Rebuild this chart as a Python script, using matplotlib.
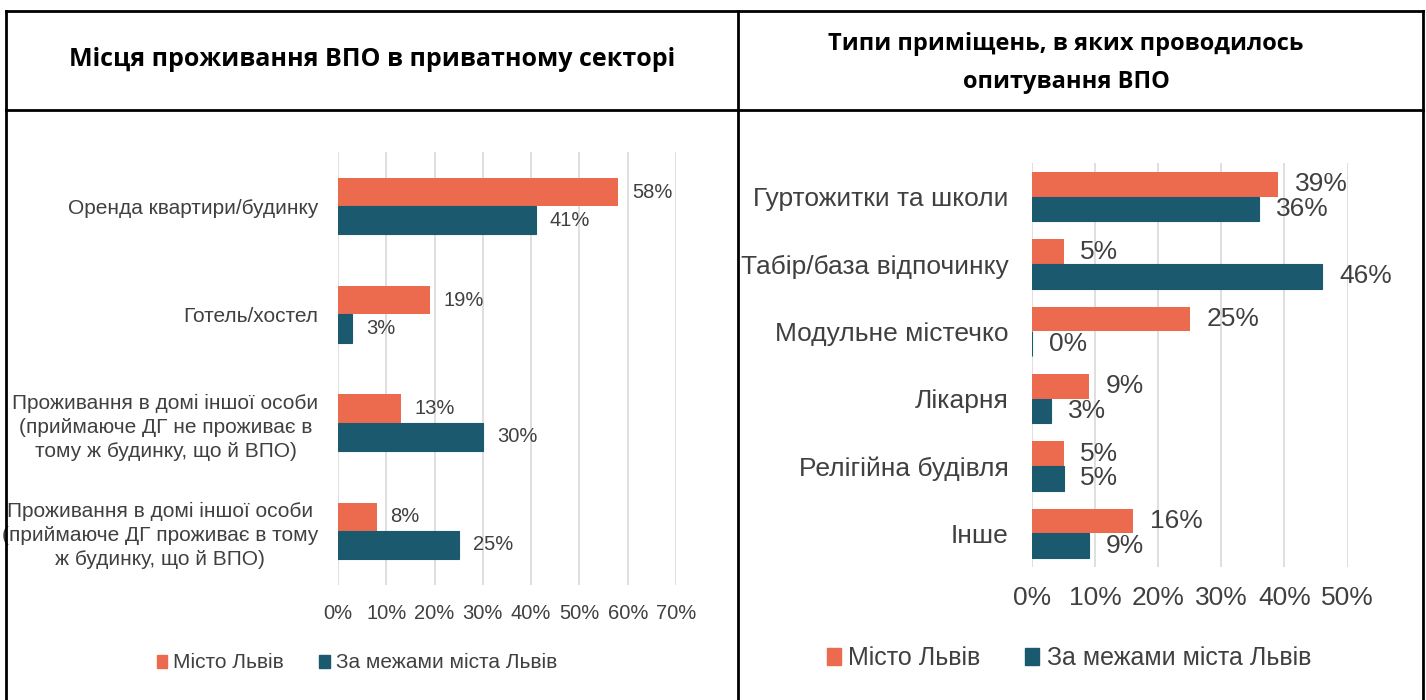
import numpy as np
import matplotlib.pyplot as plt
from matplotlib.lines import Line2D
from matplotlib.patches import Patch

plt.rcParams['font.family'] = ['Liberation Sans', 'DejaVu Sans']

ORANGE = '#EC6A4E'
TEAL = '#1B5A6E'
TEXT = '#404040'
GRID = '#D9D9D9'

series_names = ['Місто Львів', 'За межами міста Львів']

# left panel: private sector
left_title = 'Місця проживання ВПО в приватному секторі'
left_cats = ['Оренда квартири/будинку',
             'Готель/хостел',
             'Проживання в домі іншої особи\n(приймаюче ДГ не проживає в\nтому ж будинку, що й ВПО)',
             'Проживання в домі іншої особи\n(приймаюче ДГ проживає в тому\nж будинку, що й ВПО)']
left_city = [58, 19, 13, 8]
left_outside = [41, 3, 30, 25]

# right panel: survey locations
right_title = 'Типи приміщень, в яких проводилось\nопитування ВПО'
right_cats = ['Гуртожитки та школи', 'Табір/база відпочинку', 'Модульне містечко',
              'Лікарня', 'Релігійна будівля', 'Інше']
right_city = [39, 5, 25, 9, 5, 16]
right_outside = [36, 46, 0, 3, 5, 9]


def draw_panel(ax, cats, city, outside, xmax, bar_h, fs_cat, fs_val, fs_tick, gap, ypad):
    y = np.arange(len(cats))
    ax.barh(y - bar_h / 2, city, height=bar_h, color=ORANGE, zorder=3)
    ax.barh(y + bar_h / 2, outside, height=bar_h, color=TEAL, zorder=3,
            edgecolor=TEAL, linewidth=0.8)
    for yi, v in zip(y, city):
        ax.annotate(f'{v}%', (v, yi - bar_h / 2), xytext=(gap, 0), textcoords='offset points',
                    va='center', ha='left', fontsize=fs_val, color=TEXT)
    for yi, v in zip(y, outside):
        ax.annotate(f'{v}%', (v, yi + bar_h / 2), xytext=(gap, 0), textcoords='offset points',
                    va='center', ha='left', fontsize=fs_val, color=TEXT)
    ax.set_xlim(0, xmax)
    ax.set_ylim(len(cats) - 0.5, -0.5)
    ax.set_yticks(y)
    ax.set_yticklabels(cats, fontsize=fs_cat, color=TEXT, ha='right', multialignment='center',
                       linespacing=1.35)
    ax.set_xticks(np.arange(0, xmax + 1, 10))
    ax.set_xticklabels([f'{t}%' for t in range(0, xmax + 1, 10)], fontsize=fs_tick, color=TEXT)
    ax.tick_params(length=0)
    ax.tick_params(axis='x', pad=14)
    ax.tick_params(axis='y', pad=ypad)
    ax.grid(axis='x', color=GRID, linewidth=1.2, zorder=0)
    for s in ax.spines.values():
        s.set_visible(False)


fig = plt.figure(figsize=(14.26, 7), dpi=100)

W, H = 1426, 700
def fx(px):
    return px / W
def fy(py):
    return 1 - py / H

ax1 = fig.add_axes([fx(338), fy(585), fx(676) - fx(338), fy(152) - fy(585)])
draw_panel(ax1, left_cats, left_city, left_outside, 70, 0.26, 15, 14.5, 14.5, 10, 14)

ax2 = fig.add_axes([fx(1032), fy(567), fx(1347.5) - fx(1032), fy(163) - fy(567)])
draw_panel(ax2, right_cats, right_city, right_outside, 50, 0.367, 19, 19, 19, 12, 17)

handles = [Patch(color=ORANGE), Patch(color=TEAL)]
fig.legend(handles, series_names, loc='center', bbox_to_anchor=(fx(357), fy(663)),
           ncol=2, frameon=False, fontsize=15, labelcolor=TEXT,
           handlelength=0.5, handleheight=0.6, handletextpad=0.3, columnspacing=1.7)
fig.legend(handles, series_names, loc='center', bbox_to_anchor=(fx(1069), fy(658)),
           ncol=2, frameon=False, fontsize=18, labelcolor=TEXT,
           handlelength=0.55, handleheight=0.65, handletextpad=0.3, columnspacing=1.8)

# titles in the header row
fig.text(fx(372), fy(60), left_title, ha='center', va='center', fontsize=18,
         fontweight='bold', family=['Open Sans', 'DejaVu Sans'])
fig.text(fx(1066), fy(63), right_title, ha='center', va='center', fontsize=17,
         fontweight='bold', family=['Open Sans', 'DejaVu Sans'], linespacing=1.75)

# table borders
lines = [((6, 1423), (11, 11)),
         ((6, 1423), (110, 110)),
         ((6, 6), (11, 700)),
         ((738, 738), (11, 700)),
         ((1423, 1423), (11, 700))]
for xs, ys in lines:
    fig.add_artist(Line2D([fx(xs[0]), fx(xs[1])], [fy(ys[0]), fy(ys[1])],
                          color='black', linewidth=2))

fig.savefig('out.png', dpi=100)
